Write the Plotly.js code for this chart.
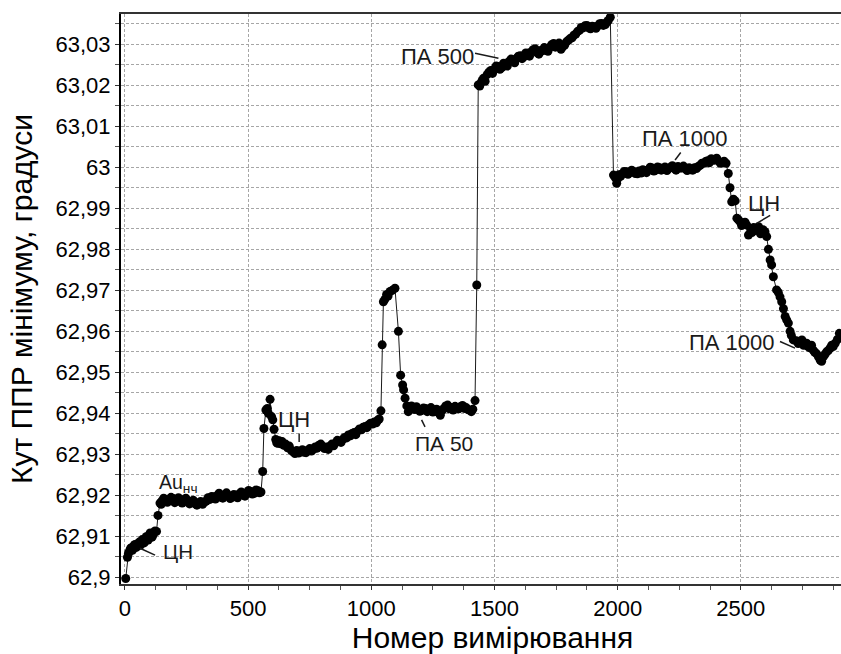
<!DOCTYPE html>
<html>
<head>
<meta charset="utf-8">
<script src="https://cdn.plot.ly/plotly-3.0.1.min.js"></script>
<style>
html,body{margin:0;padding:0;overflow:hidden;background:#fff;}
#chart{width:864px;height:654px;}
</style>
</head>
<body>
<div id="chart"></div>
<script>
// Stage data: measurement number and SPR minimum angle (degrees)
const cnX = [3,10,14,18,22,26,30,34,38,42,46,50,54,58,62,66,70,74,78,82,86,90,94,98,102,106,110,114,118,122,128,134,142];
const cnY = [62.8997,62.9049,62.9058,62.9064,62.9070,62.9072,62.9066,62.9075,62.9079,62.9080,62.9073,62.9077,62.9083,62.9086,62.9078,62.9083,62.9092,62.9090,62.9084,62.9093,62.9099,62.9097,62.9091,62.9102,62.9108,62.9106,62.9098,62.9104,62.9110,62.9113,62.9112,62.9151,62.9181];

const auX = [147,150,157,165,172,180,187,195,202,210,217,225,232,240,247,255,262,270,277,285,292,300,307,315,322,330,337,345,352,360,367,375,382,390,397,405,412,420,427,435,442,450,457,465,472,480,487,495,502,510,517,525,532,540,546,552];
const auY = [62.9178,62.9186,62.9193,62.9190,62.9183,62.9188,62.9195,62.9192,62.9182,62.9187,62.9194,62.9185,62.9181,62.9189,62.9193,62.9184,62.9179,62.9182,62.9188,62.9179,62.9176,62.9181,62.9185,62.9178,62.9183,62.9186,62.9194,62.9190,62.9197,62.9196,62.9191,62.9200,62.9205,62.9195,62.9193,62.9201,62.9206,62.9198,62.9192,62.9195,62.9202,62.9199,62.9194,62.9204,62.9208,62.9201,62.9198,62.9207,62.9212,62.9209,62.9203,62.9205,62.9213,62.9211,62.9206,62.9208];

const cn2X = [559,564,572,578,582,589,595,600,605,612,616,620,626,630,638,645,652,660,667,675,682,690,697,705,712,720,727,735,742,750,757,765,772,780,787,795,802,810,817,825,832,840,847,855,862,870,877,885,892,900,907,915,922,930,937,945,952,960,967,975,982,990,997,1005,1012,1020,1026,1032];
const cn2Y = [62.9258,62.9363,62.9408,62.9412,62.9400,62.9434,62.9392,62.9384,62.9361,62.9336,62.9328,62.9327,62.9333,62.9326,62.9331,62.9322,62.9325,62.9316,62.9320,62.9310,62.9306,62.9302,62.9309,62.9303,62.9307,62.9311,62.9305,62.9304,62.9310,62.9314,62.9308,62.9312,62.9318,62.9315,62.9322,62.9325,62.9318,62.9314,62.9318,62.9312,62.9320,62.9325,62.9321,62.9328,62.9334,62.9331,62.9329,62.9337,62.9341,62.9340,62.9347,62.9345,62.9351,62.9353,62.9348,62.9357,62.9362,62.9360,62.9366,62.9368,62.9365,62.9372,62.9376,62.9374,62.9379,62.9377,62.9383,62.9386];

const pa50X = [1039,1044,1049,1055,1062,1068,1076,1085,1096,1110,1119,1127,1131,1137,1144,1150,1157,1163,1170,1177,1183,1190,1197,1205,1212,1220,1227,1235,1242,1250,1257,1265,1272,1280,1287,1295,1302,1310,1317,1325,1332,1340,1347,1355,1362,1370,1377,1385,1392,1400,1406,1412,1421,1428];
const pa50Y = [62.9406,62.9567,62.9672,62.9678,62.9690,62.9686,62.9697,62.9700,62.9705,62.9600,62.9493,62.9469,62.9457,62.9437,62.9418,62.9404,62.9412,62.9418,62.9414,62.9409,62.9416,62.9410,62.9405,62.9407,62.9413,62.9412,62.9404,62.9409,62.9414,62.9403,62.9408,62.9410,62.9402,62.9395,62.9406,62.9412,62.9418,62.9420,62.9411,62.9414,62.9408,62.9417,62.9413,62.9411,62.9416,62.9419,62.9412,62.9414,62.9409,62.9407,62.9404,62.9410,62.9431,62.9713];

const pa500X = [1434,1440,1445,1450,1455,1462,1470,1477,1485,1492,1500,1507,1515,1522,1530,1537,1545,1552,1560,1567,1575,1582,1590,1597,1605,1612,1620,1627,1635,1642,1650,1657,1665,1672,1680,1687,1695,1702,1710,1717,1725,1732,1740,1747,1755,1762,1770,1777,1785,1792,1800,1807,1815,1822,1830,1837,1845,1852,1860,1867,1875,1882,1890,1897,1905,1912,1920,1927,1935,1942,1950,1956,1962,1970];
const pa500Y = [63.0201,63.0198,63.0206,63.0212,63.0217,63.0210,63.0226,63.0232,63.0236,63.0229,63.0240,63.0247,63.0246,63.0239,63.0243,63.0254,63.0252,63.0247,63.0258,63.0264,63.0262,63.0255,63.0266,63.0271,63.0272,63.0265,63.0270,63.0279,63.0278,63.0271,63.0282,63.0287,63.0289,63.0280,63.0276,63.0285,63.0284,63.0292,63.0290,63.0283,63.0293,63.0299,63.0302,63.0293,63.0296,63.0303,63.0288,63.0294,63.0298,63.0306,63.0310,63.0314,63.0316,63.0322,63.0325,63.0331,63.0334,63.0341,63.0340,63.0345,63.0346,63.0340,63.0338,63.0344,63.0343,63.0339,63.0345,63.0350,63.0351,63.0346,63.0348,63.0354,63.0358,63.0366];

const pa1000X = [1983,1990,1996,2000,2005,2012,2020,2027,2035,2042,2050,2057,2065,2072,2080,2087,2095,2102,2110,2117,2125,2132,2140,2147,2155,2162,2170,2177,2185,2192,2200,2207,2215,2222,2230,2237,2245,2252,2260,2267,2275,2282,2290,2297,2305,2312,2320,2327,2335,2342,2350,2357,2365,2372,2380,2387,2395,2402,2410,2417,2425,2432,2440];
const pa1000Y = [62.9981,62.9975,62.9961,62.9972,62.9982,62.9978,62.9985,62.9990,62.9989,62.9983,62.9987,62.9993,62.9990,62.9985,62.9984,62.9991,62.9986,62.9994,62.9992,62.9987,62.9994,63.0000,62.9998,62.9991,62.9993,63.0001,62.9999,62.9993,62.9995,63.0001,62.9992,62.9997,63.0000,63.0004,62.9997,62.9993,63.0002,62.9998,62.9998,63.0003,62.9996,62.9992,62.9999,62.9994,62.9993,62.9999,62.9997,63.0002,63.0005,63.0010,63.0010,63.0014,63.0016,63.0011,63.0021,63.0017,63.0018,63.0022,63.0015,63.0010,63.0012,63.0015,63.0010];

const tailX = [2449,2456,2463,2470,2477,2484,2490,2497,2503,2510,2517,2524,2531,2540,2545,2552,2558,2565,2572,2580,2585,2590,2598,2605,2612,2619,2625,2632,2645,2652,2659,2666,2673,2680,2686,2693,2700,2705,2713,2725,2733,2741,2748,2755,2767,2773,2780,2787,2794,2800,2808,2815,2822,2828,2835,2842,2848,2855,2862,2869,2875,2883,2892,2900];
const tailY = [62.9985,62.9950,62.9916,62.9922,62.9918,62.9876,62.9872,62.9867,62.9858,62.9862,62.9866,62.9859,62.9835,62.9848,62.9841,62.9853,62.9846,62.9851,62.9855,62.9838,62.9844,62.9848,62.9843,62.9831,62.9800,62.9774,62.9762,62.9733,62.9701,62.9695,62.9684,62.9672,62.9655,62.9636,62.9628,62.9620,62.9600,62.9590,62.9579,62.9577,62.9570,62.9575,62.9579,62.9566,62.9571,62.9563,62.9560,62.9566,62.9554,62.9549,62.9545,62.9538,62.9530,62.9527,62.9538,62.9544,62.9550,62.9553,62.9559,62.9566,62.9563,62.9571,62.9580,62.9595];

// Labels
const labelText = ['ЦН','Au<sub>нч</sub>','ЦН','ПА 50','ПА 500','ПА 1000','ЦН','ПА 1000'];
const labelX = [215,219,686,1295,1267,2274,2594,2466];
const labelY = [62.9062,62.9230,62.9386,62.9326,63.0270,63.0071,62.9912,62.9573];
// Leader lines (from, to)
const leadX0 = [61,null,707,1204,1421,2233,2564,2659];
const leadY0 = [62.9071,null,62.9351,62.9384,63.0278,63.0018,62.9863,62.9575];
const leadX1 = [122,null,707,1218,1516,2256,2619,2720];
const leadY1 = [62.9054,null,62.9330,62.9367,63.0266,63.0036,62.9883,62.9559];

const xTickVals = [0,500,1000,1500,2000,2500];

const xs = [].concat(cnX, auX, cn2X, pa50X, pa500X, pa1000X, tailX);
const ys = [].concat(cnY, auY, cn2Y, pa50Y, pa500Y, pa1000Y, tailY);

const FONT = 'Liberation Sans, Arial, sans-serif';
const labelSizes = [20.5, 19.5, 22, 21, 22, 22, 22, 22];

const trace = {
  x: xs, y: ys, type: 'scatter', mode: 'lines+markers',
  line: {color: '#1a1a1a', width: 1},
  marker: {color: '#000', size: 9},
  hoverinfo: 'x+y', showlegend: false
};

const annotations = labelText.map((t, i) => ({
  x: labelX[i], y: labelY[i], xref: 'x', yref: 'y', text: t,
  showarrow: false, xanchor: 'center', yanchor: 'middle',
  font: {family: FONT, size: labelSizes[i], color: '#1a1a1a'}
}));

const shapes = [];
for (let i = 0; i < leadX0.length; i++) {
  if (leadX0[i] === null) continue;
  shapes.push({type: 'line', xref: 'x', yref: 'y', x0: leadX0[i], y0: leadY0[i], x1: leadX1[i], y1: leadY1[i],
    line: {color: '#1a1a1a', width: 1.5}});
}

const gridDash = '3px,2px';
const layout = {
  width: 864, height: 654,
  margin: {l: 121, r: 0, t: 14, b: 70},
  paper_bgcolor: '#fff', plot_bgcolor: '#fff',
  separators: ', ',
  font: {family: FONT, color: '#000'},
  showlegend: false,
  xaxis: {
    range: [-16.2, 3000], tickmode: 'array', tickvals: xTickVals,
    showgrid: true, gridcolor: '#a6a6a6', gridwidth: 1, griddash: gridDash,
    zeroline: false, showline: true, linecolor: '#333', linewidth: 2, mirror: true,
    ticks: 'outside', ticklen: 4, tickcolor: '#333', tickwidth: 1,
    tickfont: {family: FONT, size: 22, color: '#000'},
    minor: {dtick: 125, tick0: 0, ticks: 'outside', ticklen: 4, tickcolor: '#555', showgrid: false},
    title: {text: 'Номер вимірювання', font: {family: FONT, size: 30, color: '#000'}, standoff: 6}
  },
  yaxis: {
    range: [62.89837, 63.03739], tick0: 62.9, dtick: 0.01,
    showgrid: true, gridcolor: '#a6a6a6', gridwidth: 1, griddash: gridDash,
    zeroline: false, showline: true, linecolor: '#000', linewidth: 2,
    ticks: 'outside', ticklen: 4, tickcolor: '#333', tickwidth: 1,
    tickfont: {family: FONT, size: 22, color: '#000'},
    minor: {dtick: 0.005, tick0: 62.9, ticks: 'outside', ticklen: 4, tickcolor: '#555', showgrid: true, gridcolor: '#a6a6a6', gridwidth: 1, griddash: gridDash},
    title: {text: 'Кут ППР мінімуму, градуси', font: {family: FONT, size: 30, color: '#000'}, standoff: 14}
  },
  annotations: annotations,
  shapes: shapes
};

Plotly.newPlot('chart', [trace], layout, {displayModeBar: false, responsive: false, staticPlot: true});
</script>
</body>
</html>
